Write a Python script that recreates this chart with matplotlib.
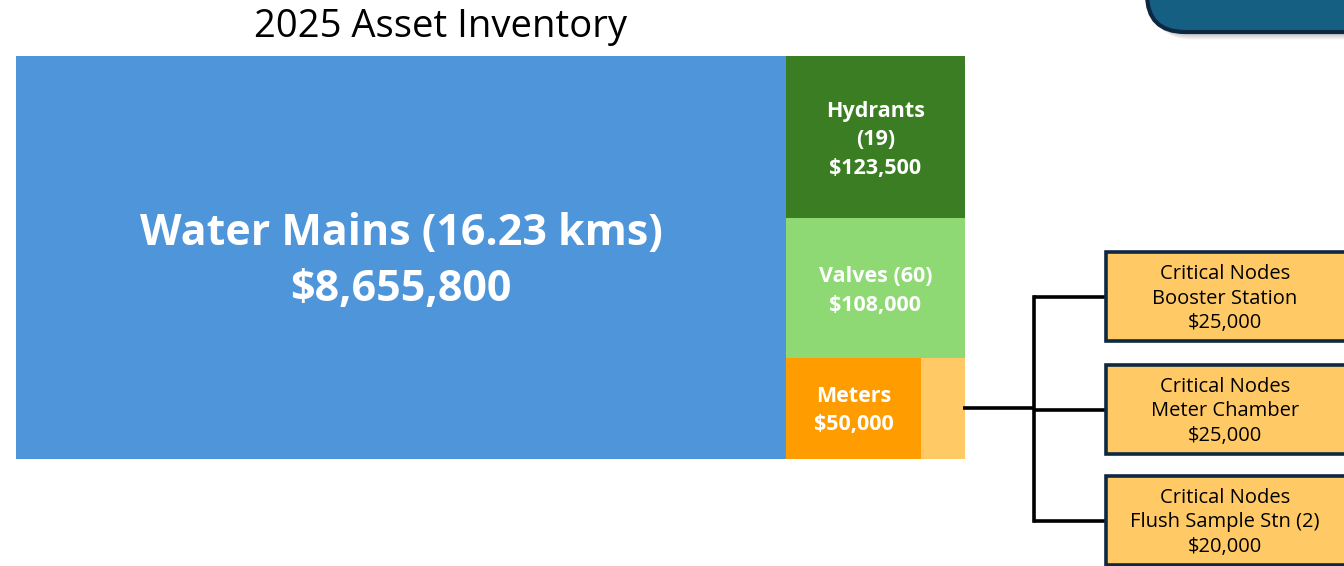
import matplotlib
matplotlib.use("Agg")
import matplotlib.pyplot as plt
from matplotlib.patches import Rectangle, FancyBboxPatch

# ---- data ----
title = "2025 Asset Inventory"
tile_names = ["Water Mains", "Hydrants", "Valves", "Meters", "Critical Nodes"]
tile_labels = ["Water Mains (16.23 kms)\n$8,655,800", "Hydrants\n(19)\n$123,500",
               "Valves (60)\n$108,000", "Meters\n$50,000", ""]
tile_costs = [8655800, 123500, 108000, 50000, 70000]
tile_areas = [81.1, 7.58, 6.55, 3.57, 1.16]   # relative tile sizes as drawn
tile_colors = ["#4F95D9", "#3A7D22", "#8ED973", "#FF9C00", "#FFCA66"]

node_names = ["Booster Station", "Meter Chamber", "Flush Sample Stn (2)"]
node_costs = [25000, 25000, 20000]

W, H = 1344, 566
fig = plt.figure(figsize=(W / 100, H / 100), dpi=100)
ax = fig.add_axes([0, 0, 1, 1])
ax.set_xlim(0, W)
ax.set_ylim(H, 0)
ax.axis("off")

BOLD = ["Open Sans", "DejaVu Sans"]
REG = ["Open Sans", "DejaVu Sans"]

# ---- treemap layout (slice & dice from tile areas) ----
X0, Y0, TW, TH = 16, 56, 949, 403
tot = sum(tile_areas)
w_main = TW * tile_areas[0] / tot
rects = [(X0, Y0, w_main, TH)]
col_x = X0 + w_main
col_w = TW - w_main
rest = sum(tile_areas[1:])
h_hyd = TH * tile_areas[1] / rest
h_val = TH * tile_areas[2] / rest
h_bot = TH - h_hyd - h_val
rects.append((col_x, Y0, col_w, h_hyd))
rects.append((col_x, Y0 + h_hyd, col_w, h_val))
bot_y = Y0 + h_hyd + h_val
w_met = col_w * tile_areas[3] / (tile_areas[3] + tile_areas[4])
rects.append((col_x, bot_y, w_met, h_bot))
rects.append((col_x + w_met, bot_y, col_w - w_met, h_bot))

sizes = [31, 15.5, 15.5, 15.5, 10]
spacing = [1.38, 1.47, 1.47, 1.47, 1.2]
dy = [4, 3, 3, 2, 0]
for (x, y, w, h), c, lab, fs, ls, d in zip(rects, tile_colors, tile_labels, sizes, spacing, dy):
    ax.add_patch(Rectangle((x, y), w, h, facecolor=c, edgecolor="none"))
    if lab:
        ax.text(x + w / 2, y + h / 2 + d, lab, ha="center", va="center", color="white",
                fontsize=fs, fontweight="bold", family=BOLD, linespacing=ls)

ax.text(440, 27, title, ha="center", va="center", fontsize=27.5,
        family=["Open Sans", "DejaVu Sans"], color="black")

# ---- connectors ----
cx = rects[4][0] + rects[4][2]
cy = rects[4][1] + rects[4][3] / 2
bx = 1106
mid_x = 1034
box_tops = [252, 365, 476]
box_h = 89
box_centers = [t + box_h / 2 for t in box_tops]
lw = 2.6
ax.plot([cx - 2, mid_x], [cy, cy], color="black", lw=lw, solid_capstyle="butt", zorder=3)
ax.plot([mid_x, mid_x], [box_centers[0], box_centers[-1]], color="black", lw=lw,
        solid_capstyle="projecting", zorder=3)
for yc in box_centers:
    ax.plot([mid_x, bx], [yc, yc], color="black", lw=lw, solid_capstyle="butt", zorder=3)

# ---- node boxes ----
for t, name, cost in zip(box_tops, node_names, node_costs):
    ax.add_patch(Rectangle((bx, t), 260, box_h, facecolor="#FFCA66",
                           edgecolor="#0E2841", lw=2.6, zorder=4))
    ax.text(1225, t + box_h / 2 + 2, f"Critical Nodes\n{name}\n${cost:,.0f}",
            ha="center", va="center", fontsize=14.5, family=REG, color="black",
            linespacing=1.32, zorder=5)

# ---- top-right decorative banner with shadow ----
for i, a in enumerate([0.10, 0.10, 0.10, 0.10, 0.08]):
    off = 3 + i * 1.6
    ax.add_patch(FancyBboxPatch((1148 + off * 0.6, -80 + off), 260, 110,
                                boxstyle="round,pad=0,rounding_size=38",
                                facecolor="#555555", edgecolor="none", alpha=a, zorder=1))
ax.add_patch(FancyBboxPatch((1147, -80), 260, 112,
                            boxstyle="round,pad=0,rounding_size=38",
                            facecolor="#156082", edgecolor="#0E2841", lw=3, zorder=2))

fig.savefig("out.png", dpi=100)
